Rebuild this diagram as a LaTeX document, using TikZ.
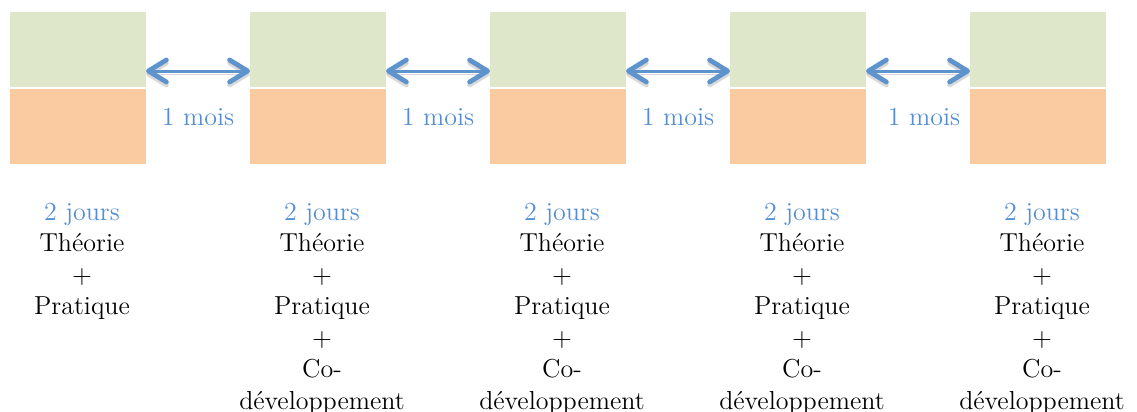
\documentclass[tikz,border=0pt]{standalone}
\usepackage{tikz}
\usetikzlibrary{positioning,arrows.meta}

\definecolor{vertclair}{HTML}{DEE7C9}
\definecolor{orangeclair}{HTML}{FACAA0}
\definecolor{bleufleche}{HTML}{5E93CC}
\definecolor{bleutexte}{HTML}{558ED5}

\begin{document}
\begin{tikzpicture}[node distance=52pt,
    haut/.style={rectangle,fill=vertclair,minimum width=68pt,minimum height=37.5pt,inner sep=0pt,outer sep=0pt},
    bas/.style={rectangle,fill=orangeclair,minimum width=68pt,minimum height=37.5pt,inner sep=0pt,outer sep=0pt},
    fleche/.style={{Straight Barb[length=9pt,width=11pt,line width=2.4pt,round]}-{Straight Barb[length=9pt,width=11pt,line width=2.4pt,round]},
        draw=bleufleche,line width=1.5pt,
        preaction={draw=black,opacity=.15,transform canvas={yshift=-1.5pt}}},
    mois/.style={text=bleutexte,font=\fontsize{13}{15.5}\selectfont,inner sep=0pt},
    texte/.style={align=center,font=\fontsize{13}{15.75}\selectfont,inner sep=0pt,anchor=north}]

    \useasboundingbox (0,0) rectangle (568.5pt,-206pt);

    % blocs de formation
    \node[haut] (g1) at (39pt,-24.75pt) {};
    \node[haut] (g2) [right=of g1] {};
    \node[haut] (g3) [right=of g2] {};
    \node[haut] (g4) [right=of g3] {};
    \node[haut] (g5) [right=of g4] {};

    \node[bas] (o1) [below=1pt of g1] {};
    \node[bas] (o2) [below=1pt of g2] {};
    \node[bas] (o3) [below=1pt of g3] {};
    \node[bas] (o4) [below=1pt of g4] {};
    \node[bas] (o5) [below=1pt of g5] {};

    % intervalles
    \draw[fleche] ([yshift=-10.75pt]g1.east) -- ([yshift=-10.75pt]g2.west);
    \draw[fleche] ([yshift=-10.75pt]g2.east) -- ([yshift=-10.75pt]g3.west);
    \draw[fleche] ([yshift=-10.75pt]g3.east) -- ([yshift=-10.75pt]g4.west);
    \draw[fleche] ([yshift=-10.75pt]g4.east) -- ([yshift=-10.75pt]g5.west);

    \path (o1.east) -- node[mois,yshift=5pt] (m1) {1 mois} (o2.west);
    \path (o2.east) -- node[mois,yshift=5pt] (m2) {1 mois} (o3.west);
    \path (o3.east) -- node[mois,yshift=5pt] (m3) {1 mois} (o4.west);
    \path (o4.east) -- node[mois,yshift=5pt,xshift=3pt] (m4) {1 mois} (o5.west);

    % contenus
    \node[texte] (t1) at ([xshift=2pt,yshift=-19.35pt]o1.south)
        {\textcolor{bleutexte}{2 jours}\\Théorie\\+\\Pratique};
    \node[texte] (t2) at ([xshift=2pt,yshift=-19.35pt]o2.south)
        {\textcolor{bleutexte}{2 jours}\\Théorie\\+\\Pratique\\+\\Co-\\développement};
    \node[texte] (t3) at ([xshift=2pt,yshift=-19.35pt]o3.south)
        {\textcolor{bleutexte}{2 jours}\\Théorie\\+\\Pratique\\+\\Co-\\développement};
    \node[texte] (t4) at ([xshift=2pt,yshift=-19.35pt]o4.south)
        {\textcolor{bleutexte}{2 jours}\\Théorie\\+\\Pratique\\+\\Co-\\développement};
    \node[texte] (t5) at ([xshift=2pt,yshift=-19.35pt]o5.south)
        {\textcolor{bleutexte}{2 jours}\\Théorie\\+\\Pratique\\+\\Co-\\développement};
\end{tikzpicture}
\end{document}
